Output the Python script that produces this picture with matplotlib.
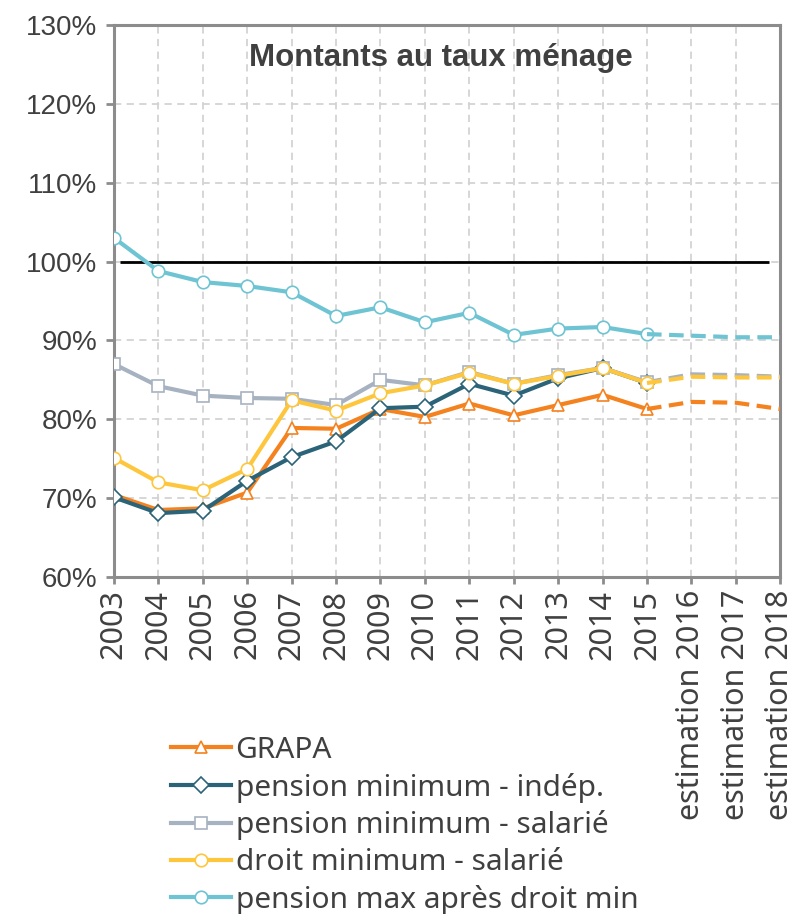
import matplotlib
matplotlib.use("Agg")
import matplotlib.pyplot as plt
from matplotlib import font_manager
import numpy as np

# categories
years = ["2003", "2004", "2005", "2006", "2007", "2008", "2009", "2010",
         "2011", "2012", "2013", "2014", "2015",
         "estimation 2016", "estimation 2017", "estimation 2018"]
n_obs = 13  # observed years up to 2015, then estimations

grapa = [70.4, 68.5, 68.7, 70.7, 78.9, 78.8, 81.3, 80.3, 82.0, 80.5, 81.8, 83.1, 81.3,
         82.2, 82.1, 81.3]
pmin_indep = [70.1, 68.1, 68.4, 72.2, 75.2, 77.2, 81.4, 81.6, 84.5, 83.0, 85.2, 86.5, 84.6,
              np.nan, np.nan, np.nan]
pmin_sal = [87.0, 84.2, 83.0, 82.7, 82.6, 81.8, 85.0, 84.3, 86.0, 84.5, 85.6, 86.5, 84.7,
            85.7, 85.6, 85.4]
dmin_sal = [75.1, 72.0, 71.0, 73.7, 82.4, 81.1, 83.3, 84.3, 85.9, 84.5, 85.5, 86.5, 84.6,
            85.4, 85.3, 85.3]
pmax = [103.0, 98.8, 97.4, 96.9, 96.1, 93.1, 94.2, 92.3, 93.5, 90.7, 91.5, 91.7, 90.8,
        90.6, 90.4, 90.4]

ref_level = 100
ref_span = (0.14, 14.75)

series = [
    ("GRAPA", grapa, "#F4821F", "^"),
    ("pension minimum - indép.", pmin_indep, "#2B6378", "D"),
    ("pension minimum - salarié", pmin_sal, "#A7B2C1", "s"),
    ("droit minimum - salarié", dmin_sal, "#FEC63D", "o"),
    ("pension max après droit min", pmax, "#6FC4D3", "o"),
]

available = {f.name for f in font_manager.fontManager.ttflist}
narrow = "Liberation Sans Narrow" if "Liberation Sans Narrow" in available else "Liberation Sans"
is_narrow = narrow == "Liberation Sans Narrow"
body = "Noto Sans"
txt = "#404040"

fig = plt.figure(figsize=(7.97, 9.14), dpi=100)
ax = fig.add_axes([0.143, 0.3687, 0.836, 0.604])

x = np.arange(len(years))
for label, vals, col, mk in series:
    v = np.array(vals, dtype=float)
    msize = 9 if mk != "D" else 8
    ax.plot(x[:n_obs], v[:n_obs], color=col, lw=3, marker=mk, ms=msize,
            mfc="white", mec=col, mew=1.2, label=label, zorder=3)
    ax.plot(x[n_obs - 1:], v[n_obs - 1:], color=col, lw=3, ls=(0, (3.5, 1.8)),
            zorder=3)

ax.hlines(ref_level, ref_span[0], ref_span[1], color="black", lw=2, zorder=2)

ax.set_xlim(0, len(years) - 1)
ax.set_ylim(60, 130)
ax.set_yticks(np.arange(60, 131, 10))
ax.set_yticklabels([f"{v}%" for v in range(60, 131, 10)],
                   fontsize=23 if is_narrow else 20, family=narrow, color=txt)
ax.set_xticks(x)
ax.set_xticklabels(years, rotation=90, fontsize=22, family=body, color=txt)

ax.grid(True, color="#D3D3D3", ls=(0, (4, 3)), lw=1.3)
ax.set_axisbelow(True)
for s in ax.spines.values():
    s.set_color("#8C8C8C")
    s.set_linewidth(2.2)
ax.tick_params(axis="y", length=6, width=2, color="#8C8C8C", pad=6)
ax.tick_params(axis="x", length=5, width=2, color="#8C8C8C", pad=4)

ax.text(0.49, 0.94, "Montants au taux ménage", transform=ax.transAxes,
        ha="center", va="center", fontsize=27 if is_narrow else 22.5,
        fontweight="bold", family=narrow, color=txt)

handles, labels = ax.get_legend_handles_labels()
leg = fig.legend(handles, labels, loc="upper left", bbox_to_anchor=(0.215, 0.195),
                 frameon=False, prop={"family": body, "size": 21.5},
                 handlelength=2.0, handletextpad=0.15, labelspacing=0.26,
                 borderpad=0, borderaxespad=0)
for t in leg.get_texts():
    t.set_color(txt)

fig.savefig("out.png", dpi=100)
